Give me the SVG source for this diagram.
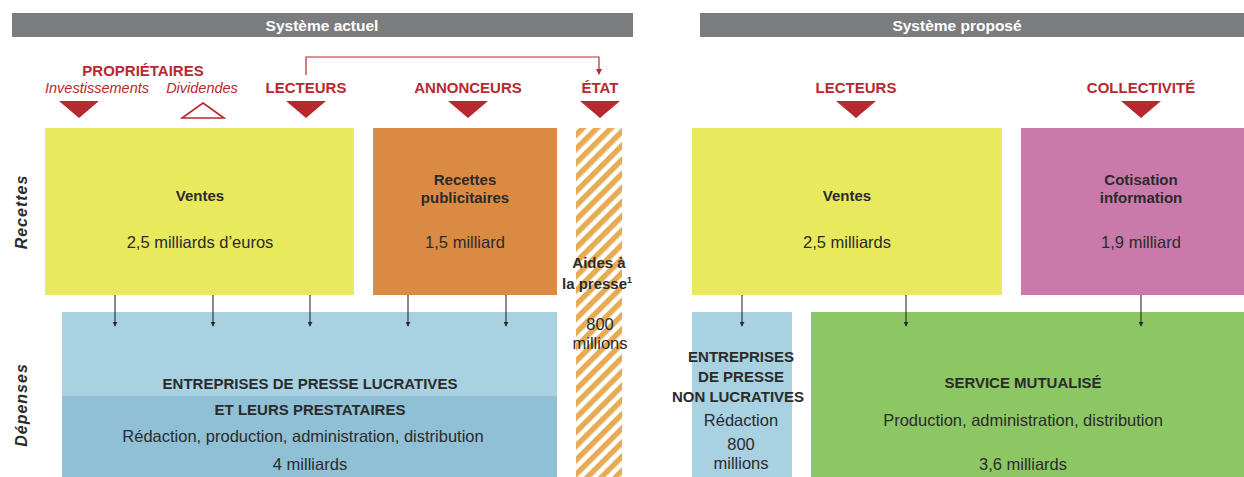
<svg xmlns="http://www.w3.org/2000/svg" width="1244" height="477" viewBox="0 0 1244 477">
<style>
text{font-family:"Liberation Sans",Arial,sans-serif;fill:#2b2b2b;text-anchor:middle}
.hdr{fill:#fff;font-weight:bold;font-size:15.5px}
.red{fill:#b8282f;font-weight:bold;font-size:15px}
.it{fill:#b8282f;font-style:italic;font-size:14.5px}
.b{font-weight:bold;font-size:15px}
.r{font-size:16.5px}
.side{font-weight:bold;font-style:italic;font-size:16px;letter-spacing:1px}
.tri{fill:#b8282f}
.ar{stroke:#2b2b2b;stroke-width:1.1;fill:none}
</style>
<defs>
<pattern id="hatch" width="10" height="10" patternUnits="userSpaceOnUse" patternTransform="rotate(45)">
<rect width="10" height="10" fill="#fff"/>
<rect width="5.5" height="10" fill="#e6ac55"/>
</pattern>
<marker id="ah" viewBox="0 0 6 6" refX="5" refY="3" markerWidth="5" markerHeight="5" orient="auto" markerUnits="userSpaceOnUse">
<path d="M0,0 L6,3 L0,6 z" fill="#2b2b2b"/>
</marker>
<marker id="ahr" viewBox="0 0 6 6" refX="5" refY="3" markerWidth="6" markerHeight="6" orient="auto" markerUnits="userSpaceOnUse">
<path d="M0,0 L6,3 L0,6 z" fill="#b8282f"/>
</marker>
</defs>
<rect width="1244" height="477" fill="#fff"/>

<g id="header-actuel">
<rect x="12" y="13" width="621" height="24" fill="#7b7c7e"/>
<text class="hdr" x="322" y="30.5">Système actuel</text>
</g>
<g id="header-propose">
<rect x="700" y="13" width="544" height="24" fill="#7b7c7e"/>
<text class="hdr" x="957" y="30.5">Système proposé</text>
</g>

<g id="side-labels">
<text class="side" transform="translate(27,212) rotate(-90)">Recettes</text>
<text class="side" transform="translate(27,405) rotate(-90)">Dépenses</text>
</g>

<g id="proprietaires">
<text class="red" x="143" y="76">PROPRIÉTAIRES</text>
<text class="it" x="97" y="93">Investissements</text>
<text class="it" x="202" y="93">Dividendes</text>
<polygon class="tri" points="59,101 99,101 79,118"/>
<polygon points="203,103 224,118 182,118" fill="none" stroke="#b8282f" stroke-width="1.6"/>
</g>
<g id="lecteurs-actuel">
<text class="red" x="306" y="93">LECTEURS</text>
<polygon class="tri" points="286,101 326,101 306,118"/>
</g>
<g id="annonceurs">
<text class="red" x="468" y="93">ANNONCEURS</text>
<polygon class="tri" points="448,101 488,101 468,118"/>
</g>
<g id="etat">
<text class="red" x="600" y="93">ÉTAT</text>
<polygon class="tri" points="580,101 620,101 600,118"/>
</g>

<g id="ventes-actuel">
<rect x="45" y="128" width="309" height="167" fill="#e8e95d"/>
<text class="b" x="200" y="201">Ventes</text>
<text class="r" x="200" y="248">2,5 milliards d’euros</text>
</g>
<g id="recettes-pub">
<rect x="373" y="128" width="184" height="167" fill="#db8a44"/>
<text class="b" x="465" y="185">Recettes</text>
<text class="b" x="465" y="203">publicitaires</text>
<text class="r" x="465" y="248">1,5 milliard</text>
</g>
<g id="aides">
<rect x="576" y="128" width="46" height="349" fill="url(#hatch)"/>
<text class="b" x="599" y="268">Aides à</text>
<text class="b" x="597" y="289">la presse<tspan font-size="9" dy="-6">1</tspan></text>
<text class="r" x="600" y="330">800</text>
<text class="r" x="600" y="349">millions</text>
</g>
<g id="entreprises-lucratives">
<rect x="62" y="312" width="495" height="165" fill="#a8d1e1"/>
<rect x="62" y="396" width="495" height="81" fill="#8fc0d5"/>
<text class="b" x="310" y="389">ENTREPRISES DE PRESSE LUCRATIVES</text>
<text class="b" x="310" y="415">ET LEURS PRESTATAIRES</text>
<text class="r" x="303" y="442">Rédaction, production, administration, distribution</text>
<text class="r" x="310" y="470">4 milliards</text>
</g>

<g id="lecteurs-propose">
<text class="red" x="856" y="93">LECTEURS</text>
<polygon class="tri" points="836,101 876,101 856,118"/>
</g>
<g id="collectivite">
<text class="red" x="1141" y="93">COLLECTIVITÉ</text>
<polygon class="tri" points="1121,101 1161,101 1141,118"/>
</g>
<g id="ventes-propose">
<rect x="692" y="128" width="310" height="167" fill="#e8e95d"/>
<text class="b" x="847" y="201">Ventes</text>
<text class="r" x="847" y="248">2,5 milliards</text>
</g>
<g id="cotisation">
<rect x="1021" y="128" width="223" height="167" fill="#c97aaa"/>
<text class="b" x="1141" y="185">Cotisation</text>
<text class="b" x="1141" y="203">information</text>
<text class="r" x="1141" y="248">1,9 milliard</text>
</g>
<g id="entreprises-non-lucratives">
<rect x="692" y="312" width="100" height="165" fill="#a8d1e1"/>
<text class="b" x="741" y="362">ENTREPRISES</text>
<text class="b" x="741" y="382">DE PRESSE</text>
<text class="b" x="738" y="402">NON LUCRATIVES</text>
<text class="r" x="741" y="426">Rédaction</text>
<text class="r" x="741" y="450">800</text>
<text class="r" x="741" y="469">millions</text>
</g>
<g id="service-mutualise">
<rect x="811" y="312" width="433" height="165" fill="#8dc764"/>
<text class="b" x="1023" y="388">SERVICE MUTUALISÉ</text>
<text class="r" x="1023" y="426">Production, administration, distribution</text>
<text class="r" x="1023" y="470">3,6 milliards</text>
</g>

<g id="connectors">
<path d="M306,75 V57 H599 V74" fill="none" stroke="#b8282f" stroke-width="1.2" marker-end="url(#ahr)"/>
<line class="ar" x1="115" y1="295" x2="115" y2="326" marker-end="url(#ah)"/>
<line class="ar" x1="213" y1="295" x2="213" y2="326" marker-end="url(#ah)"/>
<line class="ar" x1="310" y1="295" x2="310" y2="326" marker-end="url(#ah)"/>
<line class="ar" x1="408" y1="295" x2="408" y2="326" marker-end="url(#ah)"/>
<line class="ar" x1="506" y1="295" x2="506" y2="326" marker-end="url(#ah)"/>
<line class="ar" x1="742" y1="295" x2="742" y2="326" marker-end="url(#ah)"/>
<line class="ar" x1="906" y1="295" x2="906" y2="326" marker-end="url(#ah)"/>
<line class="ar" x1="1141" y1="295" x2="1141" y2="326" marker-end="url(#ah)"/>
</g>
</svg>
